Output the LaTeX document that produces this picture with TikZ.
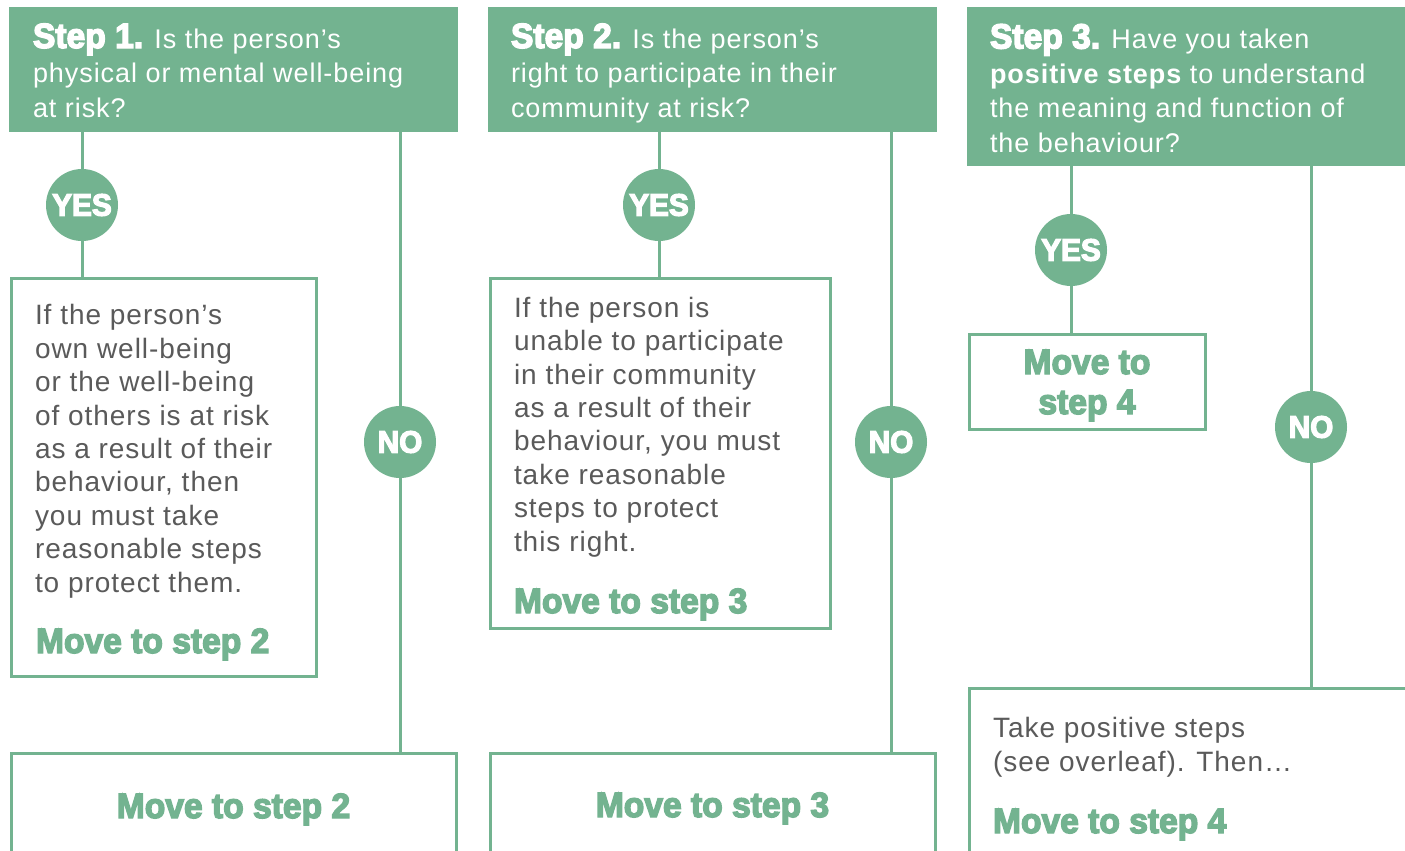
\documentclass[tikz,border=0pt]{standalone}
\usepackage{fontspec}
\setmainfont{Liberation Sans}
\newfontfamily\bodyfont[LetterSpace=3.5]{Liberation Sans}
\newfontfamily\heavyfont[FakeStretch=0.96,FakeBold=4]{Liberation Sans}
\definecolor{gr}{RGB}{115,179,144}
\definecolor{txt}{RGB}{90,90,90}
\tikzset{
  every node/.style={inner sep=0pt,outer sep=0pt},
  headbox/.style={fill=gr,anchor=north west},
  panel/.style={draw=gr,line width=3pt,anchor=north west},
  dot/.style={circle,fill=gr,minimum size=72pt,text=white,
    font=\heavyfont\bfseries\fontsize{31}{31}\selectfont},
  link/.style={draw=gr,line width=3pt},
  % multi-line texts are placed by the baseline of their last line
  qtext/.style={anchor=base west,align=left,text=white,
    font=\bodyfont\fontsize{27}{34.5}\selectfont},
  btext/.style={anchor=base west,align=left,text=txt,
    font=\bodyfont\fontsize{28}{33.4}\selectfont},
  go/.style={text=gr,font=\heavyfont\bfseries\fontsize{35}{40}\selectfont},
}
\newcommand{\steplabel}[1]{{\heavyfont\bfseries\fontsize{35}{34.5}\selectfont Step #1.}}
\begin{document}
\begin{tikzpicture}[x=1pt,y=-1pt]
\clip (0,0) rectangle (1405,851);
\fill[white] (0,0) rectangle (1405,851);

% question headers
\node[headbox,minimum width=449pt,minimum height=125pt] (head1) at (9,7) {};
\node[headbox,minimum width=449pt,minimum height=125pt] (head2) at (488,7) {};
\node[headbox,minimum width=445pt,minimum height=159pt] (head3) at (967,7) {};
\node[qtext] (h1t) at (33,117) {\steplabel{1} Is the person’s\\physical or mental well-being\\at risk?};
\node[qtext] (h2t) at (511,117) {\steplabel{2} Is the person’s\\right to participate in their\\community at risk?};
\node[qtext] (h3t) at (990,152) {\steplabel{3} Have you taken\\{\bfseries positive steps} to understand\\the meaning and function of\\the behaviour?};

% answer boxes
\node[panel,minimum width=305pt,minimum height=398pt] (box1) at (11.5,278.5) {};
\node[panel,minimum width=340pt,minimum height=350pt] (box2) at (490.5,278.5) {};
\node[panel,minimum width=236pt,minimum height=95pt] (box3) at (969.5,334.5) {};
\node[panel,minimum width=444.5pt,minimum height=200pt] (bot1) at (11.5,753.5) {};
\node[panel,minimum width=444.5pt,minimum height=200pt] (bot2) at (490.5,753.5) {};
\node[panel,minimum width=500pt,minimum height=300pt] (bot3) at (969.5,688.5) {};

% box texts
\node[btext] (b1t) at (35,592) {If the person’s\\own well-being\\or the well-being\\of others is at risk\\as a result of their\\behaviour, then\\you must take\\reasonable steps\\to protect them.};
\node[go,anchor=base west] (b1go) at (36,653) {Move to step 2};
\node[btext] (b2t) at (514,551) {If the person is\\unable to participate\\in their community\\as a result of their\\behaviour, you must\\take reasonable\\steps to protect\\this right.};
\node[go,anchor=base west] (b2go) at (514,613) {Move to step 3};
\node[go,anchor=base,align=center] (b3go) at (1087,414) {Move to\\step 4};
\node[go,anchor=base] (bot1go) at (233.5,818) {Move to step 2};
\node[go,anchor=base] (bot2go) at (712.5,817) {Move to step 3};
\node[btext] (bot3t) at (993,771) {Take positive steps\\(see overleaf). Then…};
\node[go,anchor=base west] (bot3go) at (993,833) {Move to step 4};

% yes / no markers
\node[dot] (yes1) at (82,205) {YES};
\node[dot] (no1) at (400,442) {NO};
\node[dot] (yes2) at (659,205) {YES};
\node[dot] (no2) at (891,442) {NO};
\node[dot] (yes3) at (1071,250) {YES};
\node[dot] (no3) at (1311,427) {NO};

% connectors
\foreach \h/\y/\n/\b/\e in {head1/yes1/no1/box1/bot1,head2/yes2/no2/box2/bot2,head3/yes3/no3/box3/bot3}{
  \draw[link] (\y |- \h.south) -- (\y.north);
  \draw[link] (\y.south) -- (\y |- \b.north);
  \draw[link] (\n |- \h.south) -- (\n.north);
  \draw[link] (\n.south) -- (\n |- \e.north);
}
\end{tikzpicture}
\end{document}
